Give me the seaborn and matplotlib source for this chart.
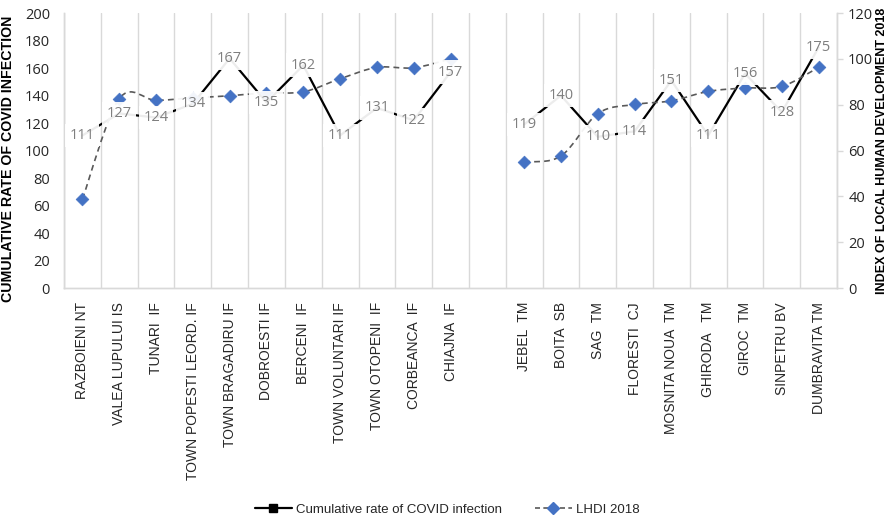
import matplotlib
matplotlib.use("Agg")
import matplotlib.pyplot as plt
from matplotlib import font_manager
from matplotlib.path import Path
from matplotlib.patches import PathPatch
from matplotlib.lines import Line2D
import numpy as np
import pandas as pd
import seaborn as sns

# Localities (an empty slot separates the two groups)
localities = [
    "RAZBOIENI NT", "VALEA LUPULUI IS", "TUNARI  IF", "TOWN POPESTI LEORD. IF",
    "TOWN BRAGADIRU IF", "DOBROESTI IF", "BERCENI  IF", "TOWN VOLUNTARI IF",
    "TOWN OTOPENI  IF", "CORBEANCA  IF", "CHIAJNA  IF", "",
    "JEBEL  TM", "BOITA  SB", "SAG  TM", "FLORESTI  CJ", "MOSNITA NOUA  TM",
    "GHIRODA   TM", "GIROC  TM", "SINPETRU BV", "DUMBRAVITA TM",
]
covid_rate = [111, 127, 124, 134, 167, 135, 162, 111, 131, 122, 157, np.nan,
              119, 140, 110, 114, 151, 111, 156, 128, 175]
lhdi_2018 = [38.8, 82.6, 81.9, 83.0, 83.9, 85.2, 85.6, 91.3, 96.3, 96.1, 100.0, np.nan,
             55.1, 57.6, 76.1, 80.1, 81.7, 85.8, 87.3, 88.0, 96.3]
region_group = [1] * 11 + [0] + [2] * 9

df = pd.DataFrame({"locality": localities, "covid": covid_rate, "lhdi": lhdi_2018,
                   "group": region_group})
df["pos"] = np.arange(len(df))

available = {f.name for f in font_manager.fontManager.ttflist}
narrow = "Liberation Sans Narrow" if "Liberation Sans Narrow" in available else "Liberation Sans"
base = "Open Sans" if "Open Sans" in available else "DejaVu Sans"

sns.set_theme(style="white")
plt.rcParams["font.family"] = [base, "DejaVu Sans"]

fig = plt.figure(figsize=(8.94, 5.21), dpi=100)
ax = fig.add_axes([0.0716, 0.447, 0.8647, 0.528])
ax2 = ax.twinx()

grid_c = "#d9d9d9"
n = len(df)
data = df[df["group"] > 0]

# Cumulative COVID rate (left axis), one line per group of localities
sns.lineplot(data=data, x="pos", y="covid", units="group", ax=ax, color="black",
             linewidth=1.6, legend=False, estimator=None, sort=False)

# LHDI 2018 (right axis): smoothed dashed curve per group plus diamond markers
def smooth_path(xs, ys):
    pts = np.column_stack([xs, ys])
    verts = [pts[0]]
    codes = [Path.MOVETO]
    for i in range(len(pts) - 1):
        p0 = pts[i - 1] if i > 0 else pts[i]
        p1, p2 = pts[i], pts[i + 1]
        p3 = pts[i + 2] if i + 2 < len(pts) else pts[i + 1]
        c1 = p1 + (p2 - p0) / 6.0
        c2 = p2 - (p3 - p1) / 6.0
        verts += [c1, c2, p2]
        codes += [Path.CURVE4] * 3
    return Path(verts, codes)

for _, sub in data.groupby("group"):
    patch = PathPatch(smooth_path(sub["pos"].to_numpy(float), sub["lhdi"].to_numpy(float)),
                      facecolor="none", edgecolor="#595959", linewidth=1.2,
                      linestyle=(0, (3.5, 2.5)), transform=ax2.transData, zorder=2)
    ax2.add_patch(patch)

sns.scatterplot(data=data, x="pos", y="lhdi", ax=ax2, marker="D", s=42,
                color="#4472C4", edgecolor="#4472C4", linewidth=0.5, zorder=3,
                legend=False)

# Value labels of the COVID rate, drawn above both series
for x, v in zip(data["pos"], data["covid"]):
    ax2.text(x, v, f"{int(v)}", transform=ax.transData, ha="center", va="center",
             fontsize=10.5, color="#7f7f7f", family=[base, "DejaVu Sans"], zorder=5,
             bbox=dict(boxstyle="square,pad=0.3", facecolor="white",
                       edgecolor="none", alpha=0.93))

# Axes ranges and ticks
ax.set_xlim(-0.5, n - 0.5)
ax.set_ylim(0, 200)
ax2.set_ylim(0, 120)
ax.set_yticks(np.arange(0, 201, 20))
ax2.set_yticks(np.arange(0, 121, 20))

ax.set_xticks(df["pos"])
ax.set_xticklabels(df["locality"], rotation=90, family=narrow, fontsize=10,
                   color="#262626")
ax.set_xticks(np.arange(-0.5, n, 1.0), minor=True)
ax.tick_params(axis="x", which="major", length=0, pad=10)
ax.tick_params(axis="x", which="minor", length=5, width=1, color=grid_c, direction="out")
ax.tick_params(axis="y", length=0, pad=10, labelsize=10.5, labelcolor="#262626")
ax2.tick_params(axis="y", length=4, width=1, color=grid_c, direction="out",
                pad=4, labelsize=10.5, labelcolor="#262626")
ax.xaxis.grid(True, which="minor", color=grid_c, linewidth=1)
ax.xaxis.grid(False, which="major")
ax.yaxis.grid(False)
ax2.grid(False)
ax.set_axisbelow(True)

for a in (ax, ax2):
    a.spines["top"].set_visible(False)
    for side in ("left", "right", "bottom"):
        a.spines[side].set_color(grid_c)
        a.spines[side].set_linewidth(1)

ax.set_xlabel("")
ax.set_ylabel("CUMULATIVE RATE OF COVID INFECTION", fontsize=10.2, fontweight="bold",
              family=narrow, color="black")
ax2.set_ylabel("INDEX OF LOCAL HUMAN DEVELOPMENT 2018", fontsize=9, fontweight="bold",
               family=narrow, color="black")
ax.yaxis.set_label_coords(-0.064, 0.47)
ax2.yaxis.set_label_coords(1.05, 0.5)

handles = [
    Line2D([0], [0], color="black", linewidth=1.6, marker="s", markersize=6,
           markerfacecolor="black", markeredgecolor="black"),
    Line2D([0], [0], color="#595959", linewidth=1.2, linestyle=(0, (3, 2)), marker="D",
           markersize=6, markerfacecolor="#4472C4", markeredgecolor="#4472C4"),
]
fig.legend(handles, ["Cumulative rate of COVID infection", "LHDI 2018"],
           loc="center", bbox_to_anchor=(0.5, 0.022), ncol=2, frameon=False,
           handlelength=2.8, handletextpad=0.3, columnspacing=2.5,
           prop={"family": narrow, "size": 9.5})

fig.savefig("out.png", dpi=100)
